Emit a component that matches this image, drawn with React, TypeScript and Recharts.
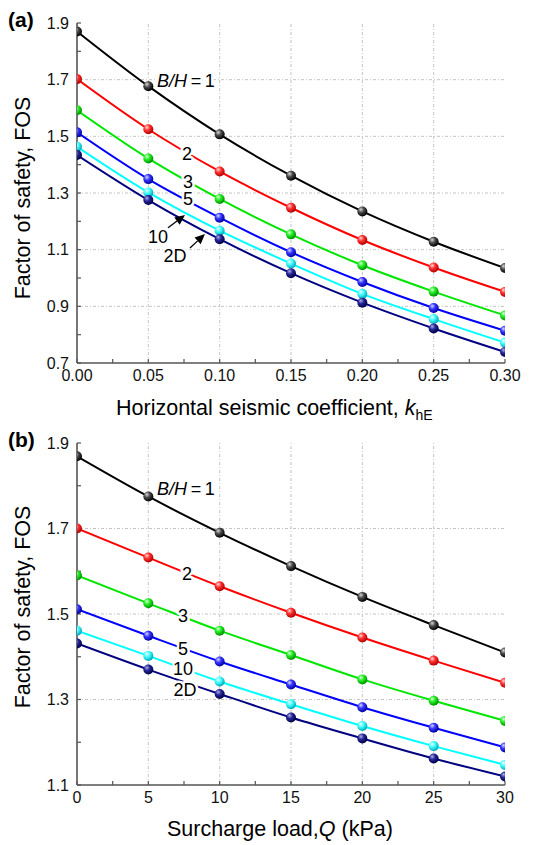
import React from 'react';
import { LineChart, Line, XAxis, YAxis, ReferenceLine, ReferenceDot } from 'recharts';

const FONT = '"Liberation Sans", Arial, Helvetica, sans-serif';

// ---------- Panel (a): horizontal seismic coefficient ----------
const khValues = [0, 0.05, 0.1, 0.15, 0.2, 0.25, 0.3];
const khBH1 = [1.87, 1.677, 1.507, 1.361, 1.235, 1.128, 1.035];
const khBH2 = [1.702, 1.525, 1.376, 1.248, 1.134, 1.037, 0.951];
const khBH3 = [1.592, 1.422, 1.279, 1.154, 1.045, 0.952, 0.868];
const khBH5 = [1.514, 1.349, 1.213, 1.091, 0.986, 0.894, 0.814];
const khBH10 = [1.463, 1.302, 1.167, 1.051, 0.944, 0.855, 0.772];
const kh2D = [1.434, 1.275, 1.137, 1.017, 0.913, 0.822, 0.739];

// ---------- Panel (b): surcharge load ----------
const qValues = [0, 5, 10, 15, 20, 25, 30];
const qBH1 = [1.869, 1.775, 1.69, 1.612, 1.54, 1.474, 1.41];
const qBH2 = [1.7, 1.632, 1.565, 1.503, 1.445, 1.391, 1.339];
const qBH3 = [1.59, 1.525, 1.461, 1.404, 1.347, 1.297, 1.25];
const qBH5 = [1.511, 1.449, 1.389, 1.335, 1.282, 1.234, 1.188];
const qBH10 = [1.461, 1.402, 1.342, 1.289, 1.238, 1.191, 1.147];
const q2D = [1.431, 1.37, 1.313, 1.258, 1.209, 1.162, 1.12];

// ---------- ticks ----------
const khTicks = [0, 0.025, 0.05, 0.075, 0.1, 0.125, 0.15, 0.175, 0.2, 0.225, 0.25, 0.275, 0.3];
const khMajor = [0, 0.05, 0.1, 0.15, 0.2, 0.25, 0.3];
const fosTicksA = [0.7, 0.8, 0.9, 1.0, 1.1, 1.2, 1.3, 1.4, 1.5, 1.6, 1.7, 1.8, 1.9];
const fosMajorA = [0.7, 0.9, 1.1, 1.3, 1.5, 1.7, 1.9];
const qTicks = [0, 2.5, 5, 7.5, 10, 12.5, 15, 17.5, 20, 22.5, 25, 27.5, 30];
const qMajor = [0, 5, 10, 15, 20, 25, 30];
const fosTicksB = [1.1, 1.2, 1.3, 1.4, 1.5, 1.6, 1.7, 1.8, 1.9];
const fosMajorB = [1.1, 1.3, 1.5, 1.7, 1.9];

const seriesKeys = ['bh1', 'bh2', 'bh3', 'bh5', 'bh10', 'd2'];
const seriesColors = ['#000000', '#ff0000', '#00e600', '#0000ff', '#00ffff', '#000080'];
const sphereStops = [
  ['#d8d8d8', '#4a4a4a', '#000000'],
  ['#ffd8d8', '#ff3030', '#b00000'],
  ['#d8ffd8', '#22ee22', '#009000'],
  ['#d8d8ff', '#3535ff', '#0000a0'],
  ['#eaffff', '#40ffff', '#00a8b8'],
  ['#b0b0e0', '#25259a', '#000045'],
];

// ---------- annotations (data coordinates) ----------
const khLabels = [
  { prefix: 'B/H', text: '\u2009=\u20091', x: 0.0561, y: 1.698, anchor: 'start' },
  { prefix: '', text: '2', x: 0.0771, y: 1.441, anchor: 'middle' },
  { prefix: '', text: '3', x: 0.0778, y: 1.342, anchor: 'middle' },
  { prefix: '', text: '5', x: 0.0778, y: 1.279, anchor: 'middle' },
  { prefix: '', text: '10', x: 0.0568, y: 1.145, anchor: 'middle' },
  { prefix: '', text: '2D', x: 0.0687, y: 1.078, anchor: 'middle' },
];
const khArrows = [
  { x1: 0.0638, y1: 1.177, x2: 0.0757, y2: 1.222 },
  { x1: 0.0792, y1: 1.106, x2: 0.0897, y2: 1.155 },
];
const qLabels = [
  { prefix: 'B/H', text: '\u2009=\u20091', x: 5.61, y: 1.793, anchor: 'start' },
  { prefix: '', text: '2', x: 7.71, y: 1.595, anchor: 'middle' },
  { prefix: '', text: '3', x: 7.43, y: 1.497, anchor: 'middle' },
  { prefix: '', text: '5', x: 7.43, y: 1.42, anchor: 'middle' },
  { prefix: '', text: '10', x: 7.43, y: 1.373, anchor: 'middle' },
  { prefix: '', text: '2D', x: 7.57, y: 1.324, anchor: 'middle' },
];

function buildRows(xs: number[], series: number[][]) {
  return xs.map((x, i) => {
    const row: any = { x };
    seriesKeys.forEach((k, j) => (row[k] = series[j][i]));
    return row;
  });
}

const dataA = buildRows(khValues, [khBH1, khBH2, khBH3, khBH5, khBH10, kh2D]);
const dataB = buildRows(qValues, [qBH1, qBH2, qBH3, qBH5, qBH10, q2D]);

const isMajor = (v: number, majors: number[]) => majors.some((m) => Math.abs(m - v) < 1e-9);

const tickStyle = { fontSize: 16, fill: '#111', fontFamily: FONT };
const GRID = '#c4c4c4';

function Defs() {
  return (
    <defs>
      {sphereStops.map((s, i) => (
        <radialGradient key={i} id={'sph' + i} cx="38%" cy="35%" r="65%" fx="35%" fy="30%">
          <stop offset="0%" stopColor={s[0]} />
          <stop offset="45%" stopColor={s[1]} />
          <stop offset="100%" stopColor={s[2]} />
        </radialGradient>
      ))}
    </defs>
  );
}

function renderLabel(a: any) {
  return (p: any) => (
    <text
      x={p.cx}
      y={p.cy}
      dy="0.36em"
      textAnchor={a.anchor}
      fontSize={18}
      fontFamily={FONT}
      fill="#000"
      stroke="#fff"
      strokeWidth={5}
      strokeLinejoin="round"
      paintOrder="stroke"
    >
      {a.prefix ? <tspan fontStyle="italic">{a.prefix}</tspan> : null}
      <tspan>{a.text}</tspan>
    </text>
  );
}

function renderArrow(p: any) {
  const { x1, y1, x2, y2 } = p;
  if (x1 == null || x2 == null) return <g />;
  const dx = x2 - x1;
  const dy = y2 - y1;
  const len = Math.sqrt(dx * dx + dy * dy) || 1;
  const ux = dx / len;
  const uy = dy / len;
  const hl = 10;
  const hw = 4.5;
  const bx = x2 - ux * hl;
  const by = y2 - uy * hl;
  const pts = `${x2},${y2} ${bx - uy * hw},${by + ux * hw} ${bx + uy * hw},${by - ux * hw}`;
  return (
    <g>
      <line x1={x1} y1={y1} x2={bx} y2={by} stroke="#000" strokeWidth={1.3} />
      <polygon points={pts} fill="#000" />
    </g>
  );
}

function Panel(props: any) {
  const { data, xDomain, xTicks, xMajor, xFmt, yDomain, yTicks, yMajor, labels, arrows, height, bottom } = props;
  return (
    <LineChart width={533} height={height} data={data} margin={{ top: 23, right: 28, left: 0, bottom: 0 }}>
      <Defs />
      {xMajor
        .filter((v: number) => v > xDomain[0] && v < xDomain[1])
        .map((v: number) => (
          <ReferenceLine key={'gx' + v} x={v} stroke={GRID} strokeWidth={1} strokeDasharray="3 2 1 2" />
        ))}
      {yMajor
        .filter((v: number) => v > yDomain[0] && v < yDomain[1])
        .map((v: number) => (
          <ReferenceLine key={'gy' + v} y={v} stroke={GRID} strokeWidth={1} strokeDasharray="3 2 1 2" />
        ))}
      <XAxis
        xAxisId="top"
        orientation="top"
        type="number"
        dataKey="x"
        domain={xDomain}
        ticks={xTicks}
        height={0}
        tickSize={-3}
        tickFormatter={() => ''}
        stroke="#999"
        axisLine={{ stroke: '#999', strokeWidth: 1.2 }}
        tickLine={{ stroke: '#999' }}
        allowDataOverflow
      />
      <YAxis
        yAxisId="right"
        orientation="right"
        type="number"
        domain={yDomain}
        ticks={yTicks}
        width={0}
        tickSize={-3}
        tickFormatter={() => ''}
        axisLine={{ stroke: '#999', strokeWidth: 1.2 }}
        tickLine={{ stroke: '#999' }}
        allowDataOverflow
      />
      <XAxis
        type="number"
        dataKey="x"
        domain={xDomain}
        ticks={xTicks}
        interval={0}
        height={bottom}
        tickSize={-4}
        tickMargin={11}
        tick={tickStyle}
        tickFormatter={(v: number) => (isMajor(v, xMajor) ? xFmt(v) : '')}
        axisLine={{ stroke: '#555', strokeWidth: 1.6 }}
        tickLine={{ stroke: '#555', strokeWidth: 1.2 }}
        allowDataOverflow
      />
      <YAxis
        type="number"
        domain={yDomain}
        ticks={yTicks}
        interval={0}
        width={77}
        tickSize={-4}
        tickMargin={12}
        tick={tickStyle}
        tickFormatter={(v: number) => (isMajor(v, yMajor) ? v.toFixed(1) : '')}
        axisLine={{ stroke: '#555', strokeWidth: 1.6 }}
        tickLine={{ stroke: '#555', strokeWidth: 1.2 }}
        allowDataOverflow
      />
      {seriesKeys.map((k, i) => (
        <Line
          key={k}
          dataKey={k}
          type="monotone"
          stroke={seriesColors[i]}
          strokeWidth={2}
          dot={{ r: 5, fill: `url(#sph${i})`, stroke: 'none', strokeWidth: 0 }}
          activeDot={false}
          isAnimationActive={false}
        />
      ))}
      {labels.map((a: any, i: number) => (
        <ReferenceDot key={'lb' + i} x={a.x} y={a.y} r={0} ifOverflow="visible" shape={renderLabel(a)} />
      ))}
      {arrows.map((a: any, i: number) => (
        <ReferenceLine
          key={'ar' + i}
          segment={[
            { x: a.x1, y: a.y1 },
            { x: a.x2, y: a.y2 },
          ]}
          ifOverflow="visible"
          shape={renderArrow}
        />
      ))}
    </LineChart>
  );
}

export default function App() {
  return (
    <div
      style={{
        position: 'absolute',
        left: 0,
        top: 0,
        width: 533,
        height: 845,
        background: '#fff',
        fontFamily: FONT,
        overflow: 'hidden',
      }}
    >
      <div style={{ position: 'absolute', left: 0, top: 0 }}>
        <Panel
          data={dataA}
          xDomain={[0, 0.3]}
          xTicks={khTicks}
          xMajor={khMajor}
          xFmt={(v: number) => v.toFixed(2)}
          yDomain={[0.7, 1.9]}
          yTicks={fosTicksA}
          yMajor={fosMajorA}
          labels={khLabels}
          arrows={khArrows}
          height={420}
          bottom={57}
        />
      </div>
      <div style={{ position: 'absolute', left: 0, top: 420 }}>
        <Panel
          data={dataB}
          xDomain={[0, 30]}
          xTicks={qTicks}
          xMajor={qMajor}
          xFmt={(v: number) => String(v)}
          yDomain={[1.1, 1.9]}
          yTicks={fosTicksB}
          yMajor={fosMajorB}
          labels={qLabels}
          arrows={[]}
          height={425}
          bottom={60}
        />
      </div>
      <svg
        width={533}
        height={845}
        style={{ position: 'absolute', left: 0, top: 0, pointerEvents: 'none' }}
        fontFamily={FONT}
      >
        <text x={8} y={27} fontSize={21} fontWeight="bold" fill="#000">(a)</text>
        <text x={8} y={447} fontSize={21} fontWeight="bold" fill="#000">(b)</text>
        <text transform="translate(30,198) rotate(-90)" textAnchor="middle" fontSize={21.5} fill="#000">
          Factor of safety, FOS
        </text>
        <text transform="translate(30,607) rotate(-90)" textAnchor="middle" fontSize={21.5} fill="#000">
          Factor of safety, FOS
        </text>
        <text x={116} y={415} fontSize={21.5} fill="#000">
          Horizontal seismic coefficient, <tspan fontStyle="italic">k</tspan>
          <tspan fontSize={14} dy={5}>hE</tspan>
        </text>
        <text x={167} y={836} fontSize={21.5} fill="#000">
          Surcharge load,<tspan fontStyle="italic">Q</tspan> (kPa)
        </text>
      </svg>
    </div>
  );
}
